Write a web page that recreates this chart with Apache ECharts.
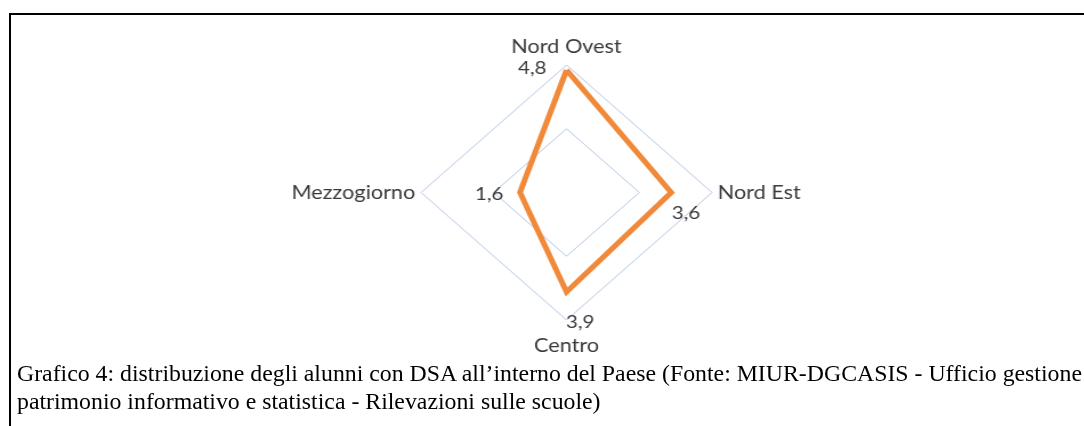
<!DOCTYPE html>
<html>
<head>
<meta charset="utf-8">
<script src="https://cdn.jsdelivr.net/npm/echarts@6/dist/echarts.min.js"></script>
<style>
  html, body { margin: 0; padding: 0; background: #fff; }
  body { width: 1084px; height: 426px; position: relative; overflow: hidden; }
  #chart-container { position: absolute; left: 0; top: 0; width: 950px; height: 370px;
    transform: scaleX(1.141); transform-origin: 0 0; }
  .line-top { position: absolute; left: 9px; top: 13px; width: 1075px; height: 2px; background: #000; }
  .line-left { position: absolute; left: 9px; top: 13px; width: 2px; height: 413px; background: #000; }
  .caption { position: absolute; left: 17px; top: 359px; font-family: "Liberation Serif", serif;
    font-size: 23.8px; line-height: 28px; color: #000; white-space: nowrap; }
</style>
</head>
<body>
<div class="line-top"></div>
<div class="line-left"></div>
<div id="chart-container"></div>
<div class="caption">Grafico 4: distribuzione degli alunni con DSA all’interno del Paese (Fonte: MIUR-DGCASIS - Ufficio gestione<br>patrimonio informativo e statistica - Rilevazioni sulle scuole)</div>
<script>
// areas in drawing order (radar goes counter-clockwise from the top)
var areas = ['Nord Ovest', 'Mezzogiorno', 'Centro', 'Nord Est'];
var values = [4.8, 1.6, 3.9, 3.6];
var scaleMax = 5;

// where each value label sits relative to its vertex
var labelOffsets = [[-30, -2], [-27, 2], [12, 30], [13, 21]];

var dom = document.getElementById('chart-container');
var myChart = echarts.init(dom, null, { renderer: 'canvas' });

var fontName = 'Lato';

var series = [
  {
    type: 'radar',
    symbol: 'none',
    lineStyle: { color: '#f08a3a', width: 5, join: 'miter', miterLimit: 10 },
    data: [{ value: values }],
    z: 3
  }
];

// one invisible series per label, so every label can have its own offset
values.forEach(function (v, k) {
  series.push({
    type: 'radar',
    symbol: 'circle',
    symbolSize: 1,
    itemStyle: { color: 'rgba(0,0,0,0)' },
    lineStyle: { width: 0, opacity: 0 },
    silent: true,
    z: 4,
    label: {
      show: true,
      position: 'inside',
      offset: labelOffsets[k],
      color: '#3a3a3a',
      fontFamily: fontName,
      fontSize: 18,
      formatter: function (p) {
        var val = Array.isArray(p.value) ? p.value[k] : p.value;
        if (val !== v) return '';
        return String(v).replace('.', ',');
      }
    },
    data: [{ value: values }]
  });
});

var option = {
  animation: false,
  radar: {
    center: [496.5, 192.5],
    radius: 127.5,
    startAngle: 90,
    splitNumber: 2,
    shape: 'polygon',
    indicator: areas.map(function (a) { return { name: a, max: scaleMax, min: 0 }; }),
    nameGap: 5,
    axisName: {
      color: '#3a3a3a',
      fontFamily: fontName,
      fontSize: 19,
      padding: [11, 0, 4, 0]
    },
    axisLine: { show: false },
    axisTick: { show: false },
    axisLabel: { show: false },
    splitArea: { show: false },
    splitLine: { lineStyle: { color: '#b2c4e4', width: 1 } }
  },
  series: series
};

myChart.setOption(option);
</script>
</body>
</html>
